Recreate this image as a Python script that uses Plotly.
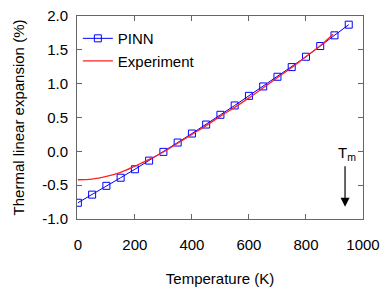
import plotly.graph_objects as go

temp_pinn = [0, 50, 100, 150, 200, 250, 300, 350, 400, 450, 500, 550, 600, 650, 700, 750, 800, 850, 900, 950]
exp_pinn = [-0.76, -0.64, -0.51, -0.39, -0.265, -0.137, -0.008, 0.13, 0.263, 0.396, 0.54, 0.678, 0.82, 0.959, 1.102, 1.245, 1.398, 1.556, 1.714, 1.872]

temp_exp = [0, 50, 100, 150, 200, 250, 300, 350, 400, 450, 500, 550, 600, 650, 700, 750, 800, 850, 895]
exp_exp = [-0.42, -0.41, -0.37, -0.31, -0.22, -0.12, -0.01, 0.12, 0.25, 0.38, 0.52, 0.65, 0.79, 0.94, 1.09, 1.24, 1.40, 1.56, 1.73]

x_ticks = [0, 200, 400, 600, 800, 1000]
y_ticks = [-1.0, -0.5, 0.0, 0.5, 1.0, 1.5, 2.0]

font = "Liberation Sans, Arial, sans-serif"

fig = go.Figure()
fig.add_trace(go.Scatter(
    x=temp_pinn, y=exp_pinn, mode="lines+markers", name="PINN",
    line=dict(color="#0000ff", width=1),
    marker=dict(symbol="square-open", size=7, color="#0000ff", line=dict(width=1)),
))
fig.add_trace(go.Scatter(
    x=temp_exp, y=exp_exp, mode="lines", name="Experiment",
    line=dict(color="#ff2020", width=1.3, shape="spline"),
))

fig.add_annotation(x=937, y=-0.82, ax=937, ay=-0.2, xref="x", yref="y", axref="x", ayref="y",
                   text="", showarrow=True, arrowhead=2, arrowsize=1.5, arrowwidth=1.2, arrowcolor="black")
fig.add_annotation(x=944, y=-0.03, xref="x", yref="y", text="T<sub>m</sub>", showarrow=False,
                   font=dict(family=font, size=15, color="black"))

axis_common = dict(showgrid=False, zeroline=False, showline=True, linecolor="#666666", linewidth=1,
                   mirror="ticks", ticks="inside", ticklen=5, tickcolor="#666666", automargin=False,
                   tickfont=dict(family=font, size=15, color="black"))

fig.update_xaxes(range=[-3, 1000], tickvals=x_ticks, ticktext=[str(v) for v in x_ticks],
                 title=dict(text="Temperature (K)", font=dict(family=font, size=15, color="black"), standoff=21),
                 ticklabelstandoff=12, **axis_common)
fig.update_yaxes(range=[-1.0, 2.0], tickvals=y_ticks, ticktext=[f"{v:.1f}" for v in y_ticks],
                 title=dict(text="Thermal linear expansion (%)", font=dict(family=font, size=15, color="black"), standoff=13),
                 ticklabelstandoff=5, **axis_common)

fig.update_layout(
    width=389, height=292,
    margin=dict(l=77, r=26, t=16, b=73),
    plot_bgcolor="white", paper_bgcolor="white",
    font=dict(family=font, size=15, color="black"),
    legend=dict(x=0.003, y=0.97, xanchor="left", yanchor="top", bgcolor="rgba(0,0,0,0)",
                font=dict(family=font, size=15), itemwidth=30, tracegroupgap=0),
    showlegend=True,
)

fig.write_html("out.html", config={"displayModeBar": False},
               post_script="document.body.style.margin='0';")
